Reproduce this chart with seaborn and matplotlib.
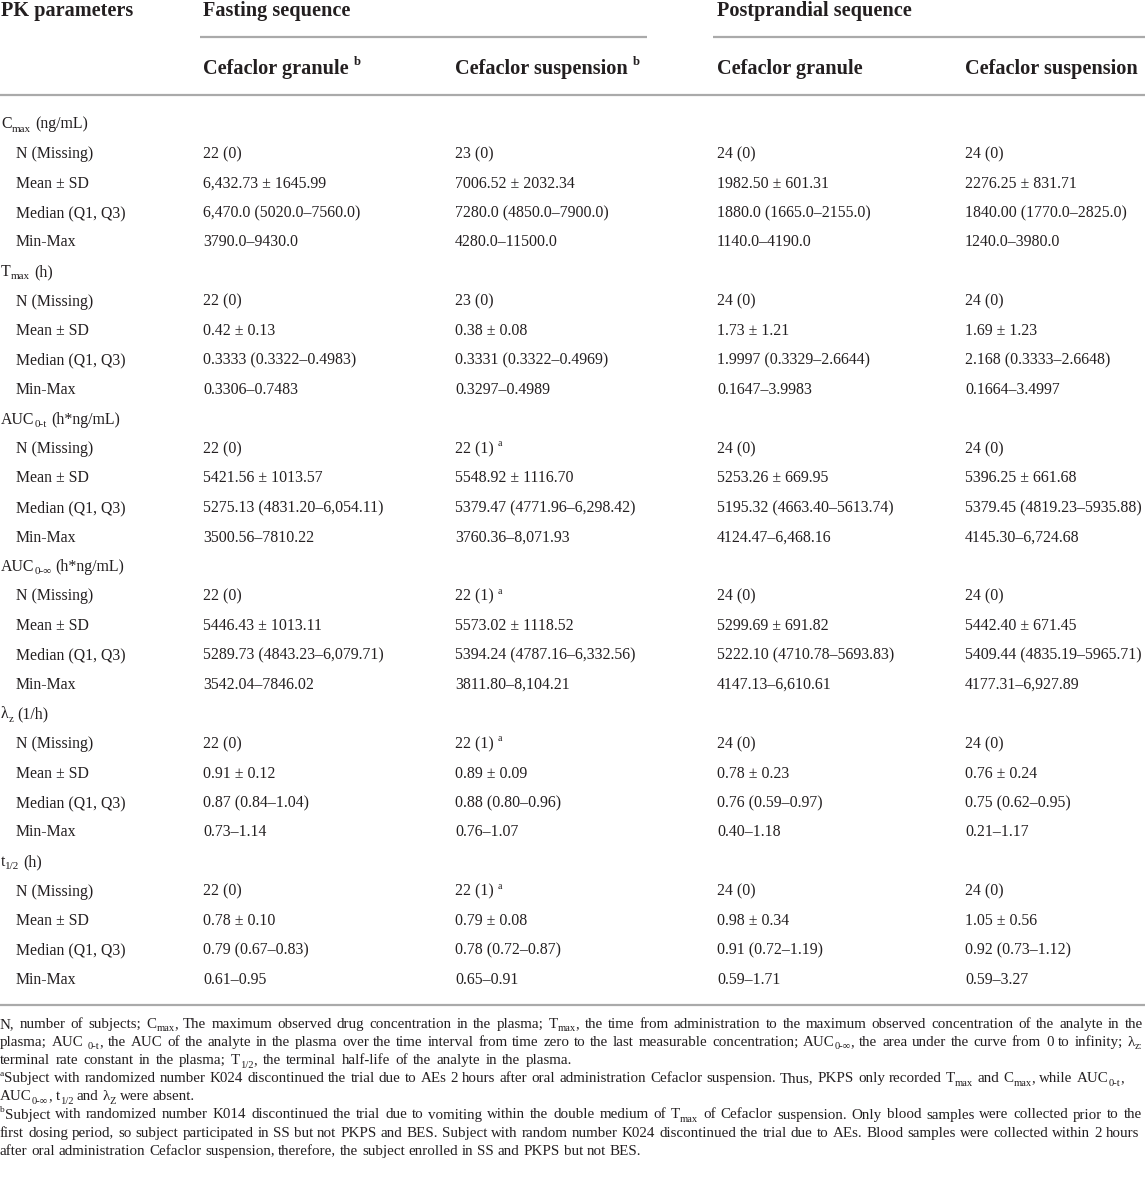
import re
import matplotlib
matplotlib.use("Agg")
import matplotlib.pyplot as plt
import seaborn as sns

# ---- table content ----
params = ["C_{max} (ng/mL)", "T_{max} (h)", "AUC_{0-t} (h*ng/mL)",
          "AUC_{0-∞} (h*ng/mL)", "λ_{z} (1/h)", "t_{1/2} (h)"]
stat_labels = ["N (Missing)", "Mean ± SD", "Median (Q1, Q3)", "Min-Max"]

group_headers = ["Fasting sequence", "Postprandial sequence"]
col_headers = ["Cefaclor granule ^{b}", "Cefaclor suspension ^{b}",
               "Cefaclor granule", "Cefaclor suspension"]

fasting_granule = [
    "22 (0)", "6,432.73 ± 1645.99", "6,470.0 (5020.0–7560.0)", "3790.0–9430.0",
    "22 (0)", "0.42 ± 0.13", "0.3333 (0.3322–0.4983)", "0.3306–0.7483",
    "22 (0)", "5421.56 ± 1013.57", "5275.13 (4831.20–6,054.11)", "3500.56–7810.22",
    "22 (0)", "5446.43 ± 1013.11", "5289.73 (4843.23–6,079.71)", "3542.04–7846.02",
    "22 (0)", "0.91 ± 0.12", "0.87 (0.84–1.04)", "0.73–1.14",
    "22 (0)", "0.78 ± 0.10", "0.79 (0.67–0.83)", "0.61–0.95",
]
fasting_suspension = [
    "23 (0)", "7006.52 ± 2032.34", "7280.0 (4850.0–7900.0)", "4280.0–11500.0",
    "23 (0)", "0.38 ± 0.08", "0.3331 (0.3322–0.4969)", "0.3297–0.4989",
    "22 (1) ^{a}", "5548.92 ± 1116.70", "5379.47 (4771.96–6,298.42)", "3760.36–8,071.93",
    "22 (1) ^{a}", "5573.02 ± 1118.52", "5394.24 (4787.16–6,332.56)", "3811.80–8,104.21",
    "22 (1) ^{a}", "0.89 ± 0.09", "0.88 (0.80–0.96)", "0.76–1.07",
    "22 (1) ^{a}", "0.79 ± 0.08", "0.78 (0.72–0.87)", "0.65–0.91",
]
post_granule = [
    "24 (0)", "1982.50 ± 601.31", "1880.0 (1665.0–2155.0)", "1140.0–4190.0",
    "24 (0)", "1.73 ± 1.21", "1.9997 (0.3329–2.6644)", "0.1647–3.9983",
    "24 (0)", "5253.26 ± 669.95", "5195.32 (4663.40–5613.74)", "4124.47–6,468.16",
    "24 (0)", "5299.69 ± 691.82", "5222.10 (4710.78–5693.83)", "4147.13–6,610.61",
    "24 (0)", "0.78 ± 0.23", "0.76 (0.59–0.97)", "0.40–1.18",
    "24 (0)", "0.98 ± 0.34", "0.91 (0.72–1.19)", "0.59–1.71",
]
post_suspension = [
    "24 (0)", "2276.25 ± 831.71", "1840.00 (1770.0–2825.0)", "1240.0–3980.0",
    "24 (0)", "1.69 ± 1.23", "2.168 (0.3333–2.6648)", "0.1664–3.4997",
    "24 (0)", "5396.25 ± 661.68", "5379.45 (4819.23–5935.88)", "4145.30–6,724.68",
    "24 (0)", "5442.40 ± 671.45", "5409.44 (4835.19–5965.71)", "4177.31–6,927.89",
    "24 (0)", "0.76 ± 0.24", "0.75 (0.62–0.95)", "0.21–1.17",
    "24 (0)", "1.05 ± 0.56", "0.92 (0.73–1.12)", "0.59–3.27",
]

footnote_lines = [
    "N, number of subjects; C_{max}, The maximum observed drug concentration in the plasma; "
    "T_{max}, the time from administration to the maximum observed concentration of the analyte in the",
    "plasma; AUC _{0-t}, the AUC of the analyte in the plasma over the time interval from time zero "
    "to the last measurable concentration; AUC_{0-∞}, the area under the curve from 0 to infinity; λ_{z:}",
    "terminal rate constant in the plasma; T_{1/2}, the terminal half-life of the analyte in the plasma.",
    "^{a}Subject with randomized number K024 discontinued the trial due to AEs 2 hours after oral "
    "administration Cefaclor suspension. Thus, PKPS only recorded T_{max} and C_{max}, while AUC_{0-t},",
    "AUC_{0-∞}, t_{1/2} and λ_{Z} were absent.",
    "^{b}Subject with randomized number K014 discontinued the trial due to vomiting within the double "
    "medium of T_{max} of Cefaclor suspension. Only blood samples were collected prior to the",
    "first dosing period, so subject participated in SS but not PKPS and BES. Subject with random "
    "number K024 discontinued the trial due to AEs. Blood samples were collected within 2 hours",
    "after oral administration Cefaclor suspension, therefore, the subject enrolled in SS and PKPS but not BES.",
]
# right edge each footnote line is stretched to (None = natural spacing)
footnote_ends = [1143, 1142, 572, 1124, None, 1142, 1139, 630]

columns = [fasting_granule, fasting_suspension, post_granule, post_suspension]

# ---- style ----
sns.set_theme(style="white")
plt.rcParams["font.family"] = ["Liberation Serif", "DejaVu Serif"]

W, H = 1145, 1181
TXT = "#231f20"
RULE = "#aaaaaa"
BODY_FS = 11.45
HEAD_FS = 14.6
NOTE_FS = 10.85

fig = plt.figure(figsize=(W / 100, H / 100), dpi=100)
ax = fig.add_axes([0, 0, 1, 1])
ax.set_xlim(0, W)
ax.set_ylim(H, 0)
ax.axis("off")
renderer = fig.canvas.get_renderer()

TOKEN = re.compile(r"(_\{[^}]*\}|\^\{[^}]*\})")


def parse(s):
    """Split a string with _{sub} / ^{sup} markup into (text, kind) pieces."""
    segs = []
    for part in TOKEN.split(s):
        if not part:
            continue
        if part.startswith("_{"):
            segs.append((part[2:-1], "sub"))
        elif part.startswith("^{"):
            segs.append((part[2:-1], "sup"))
        else:
            core = part.strip(" ")
            lead = len(part) - len(part.lstrip(" "))
            trail = len(part) - len(part.rstrip(" "))
            segs += [(" ", "n")] * lead
            if core:
                segs.append((core, "n"))
            segs += [(" ", "n")] * trail
    return segs


_space_cache = {}


def text_width(s, size, weight):
    t = ax.text(0, 0, s, fontsize=size, fontweight=weight)
    w = t.get_window_extent(renderer).width
    t.remove()
    return w


def space_width(size, weight):
    key = (size, weight)
    if key not in _space_cache:
        _space_cache[key] = text_width("n n", size, weight) - text_width("nn", size, weight)
    return _space_cache[key]


def draw_rich(x, y, s, size, weight="normal", color=TXT, draw=True):
    px = size * 100 / 72
    start = x
    for txt, kind in parse(s):
        if kind == "n":
            fs, dy = size, 0
        elif kind == "sub":
            fs, dy = size * 0.7, px * 0.22
        else:
            fs, dy = size * 0.62, -px * 0.42
        if txt == " ":
            x += space_width(fs, weight)
            continue
        t = ax.text(x, y + dy, txt, fontsize=fs, fontweight=weight, color=color,
                    ha="left", va="baseline")
        w = t.get_window_extent(renderer).width
        if not draw:
            t.remove()
        x += w
    return x - start


def draw_justified(x0, x1, y, s, size):
    words = s.split(" ")
    widths = [draw_rich(0, y, w, size, draw=False) for w in words]
    sp = space_width(size, "normal")
    gap = sp if x1 is None else max((x1 - x0 - sum(widths)) / (len(words) - 1), sp)
    x = x0
    for w, wd in zip(words, widths):
        draw_rich(x, y, w, size)
        x += wd + gap


# ---- layout ----
col_x = [203, 455, 717, 965]
label_x, indent_x = 1, 16
row0, row_step = 128.5, 29.5

# header
draw_rich(label_x, 16, "PK parameters", HEAD_FS, "bold")
draw_rich(col_x[0], 16, group_headers[0], HEAD_FS, "bold")
draw_rich(col_x[2], 16, group_headers[1], HEAD_FS, "bold")
ax.hlines(37, col_x[0] - 3, 647, color=RULE, lw=1.6)
ax.hlines(37, col_x[2] - 4, W, color=RULE, lw=1.6)
for cx, hdr in zip(col_x, col_headers):
    draw_rich(cx, 74, hdr, HEAD_FS, "bold")
ax.hlines(95, 0, W, color=RULE, lw=1.6)

# body
row = 0
for p_i, param in enumerate(params):
    draw_rich(label_x, row0 + row * row_step, param, BODY_FS)
    row += 1
    for s_i, stat in enumerate(stat_labels):
        y = row0 + row * row_step
        draw_rich(indent_x, y, stat, BODY_FS)
        for cx, col in zip(col_x, columns):
            draw_rich(cx, y, col[p_i * len(stat_labels) + s_i], BODY_FS)
        row += 1

ax.hlines(1005, 0, W, color=RULE, lw=1.6)

# footnotes
note_y, note_step = 1028, 18.1
for i, (line, end) in enumerate(zip(footnote_lines, footnote_ends)):
    draw_justified(0, end, note_y + i * note_step, line, NOTE_FS)

fig.savefig("out.png", dpi=100)
